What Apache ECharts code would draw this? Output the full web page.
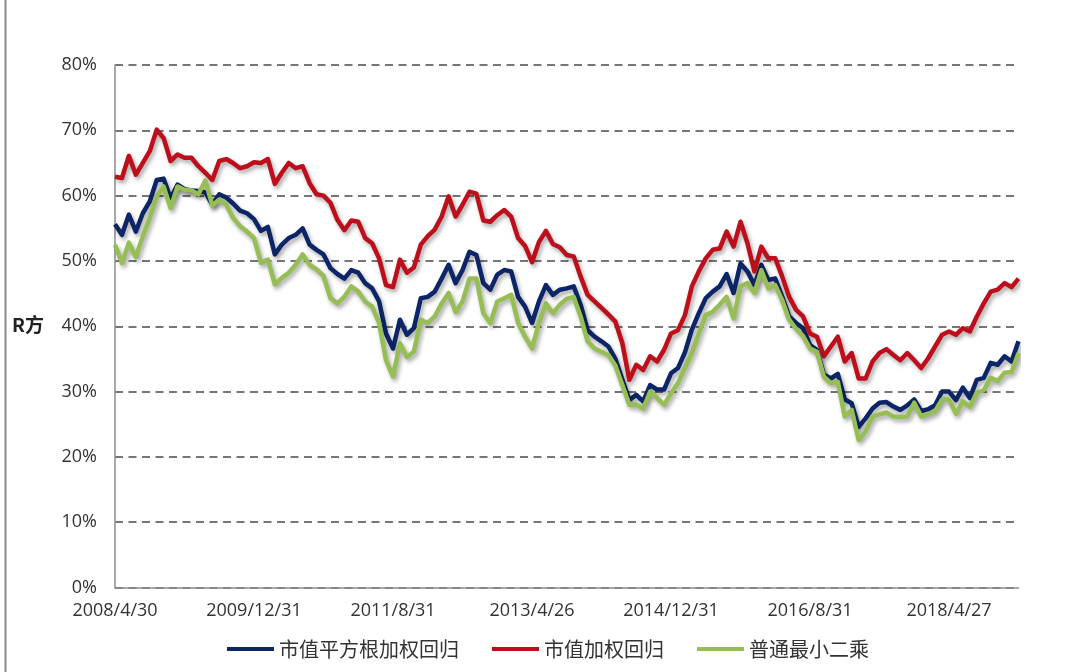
<!DOCTYPE html>
<html>
<head>
<meta charset="utf-8">
<script src="https://cdn.jsdelivr.net/npm/echarts@6/dist/echarts.min.js"></script>
<style>
html,body{margin:0;padding:0;background:#fff;}
#chart{width:1080px;height:672px;}
</style>
</head>
<body>
<div id="chart"></div>
<script>
// Month-end observation dates (category axis)
const dates = [
 '2008/4/30','2008/5/30','2008/6/30','2008/7/31','2008/8/29','2008/9/26','2008/10/31','2008/11/28','2008/12/31',
 '2009/1/23','2009/2/27','2009/3/31','2009/4/30','2009/5/27','2009/6/30','2009/7/31','2009/8/31','2009/9/30','2009/10/30','2009/11/30','2009/12/31',
 '2010/1/29','2010/2/26','2010/3/31','2010/4/30','2010/5/31','2010/6/30','2010/7/30','2010/8/31','2010/9/30','2010/10/29','2010/11/30','2010/12/31',
 '2011/1/31','2011/2/28','2011/3/31','2011/4/29','2011/5/31','2011/6/30','2011/7/29','2011/8/31','2011/9/30','2011/10/31','2011/11/30','2011/12/30',
 '2012/1/31','2012/2/29','2012/3/30','2012/4/27','2012/5/31','2012/6/29','2012/7/31','2012/8/31','2012/9/28','2012/10/31','2012/11/30','2012/12/31',
 '2013/1/31','2013/2/28','2013/3/29','2013/4/26','2013/5/31','2013/6/28','2013/7/31','2013/8/30','2013/9/30','2013/10/31','2013/11/29','2013/12/31',
 '2014/1/30','2014/2/28','2014/3/31','2014/4/30','2014/5/30','2014/6/30','2014/7/31','2014/8/29','2014/9/30','2014/10/31','2014/11/28','2014/12/31',
 '2015/1/30','2015/2/27','2015/3/31','2015/4/30','2015/5/29','2015/6/30','2015/7/31','2015/8/31','2015/9/30','2015/10/30','2015/11/30','2015/12/31',
 '2016/1/29','2016/2/29','2016/3/31','2016/4/29','2016/5/31','2016/6/30','2016/7/29','2016/8/31','2016/9/30','2016/10/31','2016/11/30','2016/12/30',
 '2017/1/26','2017/2/28','2017/3/31','2017/4/28','2017/5/31','2017/6/30','2017/7/31','2017/8/31','2017/9/29','2017/10/31','2017/11/30','2017/12/29',
 '2018/1/31','2018/2/28','2018/3/30','2018/4/27','2018/5/31','2018/6/29','2018/7/31','2018/8/31','2018/9/28','2018/10/31','2018/11/30','2018/12/28',
 '2019/1/31','2019/2/28'
];

// R-squared, percent
const sqrtCapWeighted = [
 55.6,54.0,57.1,54.5,57.3,59.1,62.4,62.6,59.6,61.7,61.0,60.8,60.7,60.5,58.6,60.2,59.7,58.8,57.7,57.3,
 56.4,54.6,55.2,51.0,52.5,53.5,54.0,55.0,52.5,51.7,51.0,48.9,48.0,47.3,48.6,48.2,46.6,45.8,43.8,38.9,
 36.6,41.0,38.7,39.7,44.3,44.5,45.3,47.3,49.4,46.6,48.6,51.4,50.9,46.6,45.6,47.9,48.6,48.4,44.5,43.0,
 40.5,43.8,46.3,44.8,45.6,45.8,46.1,43.3,39.4,38.4,37.7,36.9,35.0,31.8,28.7,29.5,28.5,31.0,30.3,30.3,
 32.8,33.6,36.0,39.5,42.0,44.3,45.3,46.1,48.0,45.1,49.6,48.4,46.3,49.4,47.1,47.3,44.5,41.5,40.5,39.7,
 37.1,36.4,32.6,32.0,32.7,28.8,28.2,24.6,25.9,27.4,28.3,28.4,27.7,27.2,27.9,28.8,27.0,27.3,27.9,30.0,
 30.0,28.7,30.6,29.0,31.8,32.1,34.4,34.1,35.4,34.6,37.7
];
const capWeighted = [
 62.9,62.7,66.1,63.2,65.0,66.8,70.1,68.8,65.3,66.3,65.8,65.8,64.5,63.5,62.4,65.3,65.6,65.0,64.2,64.5,
 65.1,65.0,65.6,61.8,63.5,65.0,64.2,64.5,61.9,60.2,60.0,58.9,56.3,54.7,56.2,56.0,53.5,52.7,50.4,46.3,
 46.0,50.2,48.2,49.0,52.5,53.8,54.8,56.8,59.9,56.8,58.6,60.6,60.3,56.2,56.0,57.0,57.8,56.8,53.5,52.3,
 49.8,52.9,54.6,52.6,52.1,50.9,50.7,47.6,44.8,43.8,42.8,41.8,40.7,37.4,31.8,34.1,33.3,35.4,34.6,36.4,
 38.9,39.4,41.7,46.1,48.4,50.4,51.7,51.9,54.5,52.2,56.0,52.7,48.4,52.2,50.4,50.4,47.6,44.5,42.5,41.5,
 38.9,38.4,35.4,36.9,38.4,34.6,35.9,32.0,32.0,34.6,35.9,36.5,35.6,34.8,35.9,34.8,33.6,35.1,36.9,38.7,
 39.2,38.7,39.7,39.2,41.5,43.5,45.3,45.6,46.6,46.0,47.3
];
const ols = [
 52.5,49.7,52.8,50.6,53.8,56.6,59.9,61.4,58.1,61.4,60.9,60.8,60.2,62.3,58.5,59.4,58.6,56.6,55.3,54.5,
 53.5,49.7,50.2,46.4,47.4,48.2,49.4,51.0,49.4,48.7,47.7,44.3,43.5,44.5,46.1,45.3,43.8,43.0,40.5,34.8,
 32.3,37.4,35.3,36.1,41.0,40.5,41.5,43.5,45.1,42.2,43.8,47.3,47.3,42.0,40.5,43.8,44.3,44.8,40.5,38.4,
 36.6,40.5,43.5,42.0,43.3,44.2,44.5,41.5,37.7,36.6,36.1,35.6,34.0,31.0,28.0,28.0,27.4,30.0,29.0,28.0,
 29.7,31.3,33.6,35.9,38.9,41.7,42.2,43.3,44.5,41.2,46.1,46.6,45.1,48.6,45.8,46.3,44.0,41.0,39.6,38.5,
 36.6,36.1,32.3,31.3,31.5,26.2,27.2,22.6,23.9,26.2,26.5,26.8,26.2,26.1,26.2,28.3,26.2,26.5,27.0,28.8,
 28.8,26.6,28.5,27.7,29.8,30.2,32.1,31.6,32.9,33.0,35.9
];

const seriesNames = ['市值平方根加权回归','市值加权回归','普通最小二乘'];
const seriesColors = ['#0B2566','#BE0E1C','#96BE55'];
const seriesData = [sqrtCapWeighted, capWeighted, ols];
const yTicks = {min: 0, max: 80, interval: 10};

const chart = echarts.init(document.getElementById('chart'), null, {renderer: 'canvas'});
const axisFont = '"Open Sans", "Liberation Sans", sans-serif';

chart.setOption({
  animation: false,
  backgroundColor: '#ffffff',
  grid: {left: 115, right: 61.5, top: 65, bottom: 84.5, containLabel: false},
  graphic: [
    {type: 'line', shape: {x1: 5.5, y1: 0, x2: 5.5, y2: 672}, style: {stroke: '#8a8a8a', lineWidth: 2}},
    {type: 'text', left: 12, top: 315, style: {text: 'R方', font: 'bold 19px "Noto Sans CJK SC", sans-serif', fill: '#222'}}
  ],
  legend: {
    left: 222, top: 634,
    itemWidth: 47, itemHeight: 4, itemGap: 33,
    icon: 'rect',
    textStyle: {fontSize: 20, color: '#333', fontFamily: '"Noto Sans CJK SC", sans-serif'},
    data: seriesNames
  },
  xAxis: {
    type: 'category',
    data: dates,
    boundaryGap: false,
    axisLine: {show: true, lineStyle: {color: '#8c8c8c', width: 1.5}},
    axisTick: {show: false},
    axisLabel: {interval: 19, fontSize: 18, color: '#333', margin: 14, fontFamily: axisFont},
    splitLine: {show: false}
  },
  yAxis: {
    type: 'value',
    min: yTicks.min, max: yTicks.max, interval: yTicks.interval,
    axisLine: {show: true, lineStyle: {color: '#8c8c8c', width: 1.5}},
    axisTick: {show: false},
    axisLabel: {formatter: '{value}%', fontSize: 18, color: '#333', margin: 18, fontFamily: axisFont},
    splitLine: {show: true, lineStyle: {color: '#4a4a4a', width: 1.6, type: [8, 5.5]}}
  },
  series: seriesNames.map((name, k) => ({
    name: name,
    type: 'line',
    data: seriesData[k],
    showSymbol: false,
    symbol: 'none',
    smooth: false,
    color: seriesColors[k],
    lineStyle: {
      width: 4.5, color: seriesColors[k], join: 'round',
      shadowColor: 'rgba(0,0,0,0.35)', shadowBlur: 4, shadowOffsetX: 2, shadowOffsetY: 3
    },
    emphasis: {disabled: true}
  }))
});
</script>
</body>
</html>
